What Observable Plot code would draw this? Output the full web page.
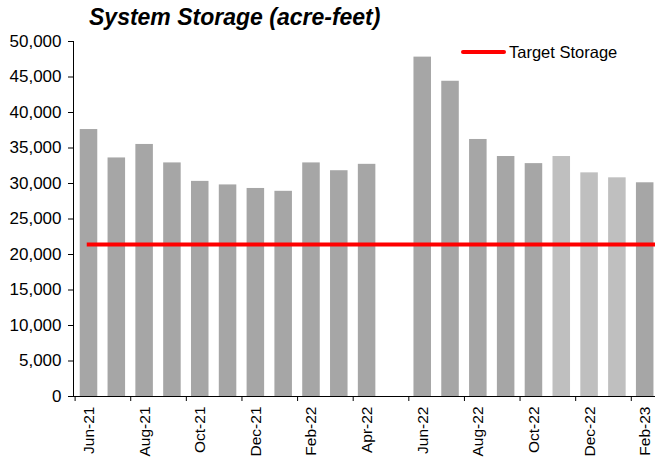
<!DOCTYPE html>
<html><head><meta charset="utf-8">
<script src="https://cdn.jsdelivr.net/npm/d3@7"></script>
<script src="https://cdn.jsdelivr.net/npm/@observablehq/plot@0.6"></script>
<style>
body{margin:0;background:#fff;font-family:"Liberation Sans",Arial,sans-serif;}
#wrap{position:relative;width:655px;height:459px;overflow:hidden;background:#fff;}
#title{position:absolute;left:89px;top:4px;font-size:23px;font-weight:bold;font-style:italic;line-height:normal;white-space:nowrap;color:#000;}
#legend{position:absolute;left:461px;top:42px;height:20px;display:flex;align-items:center;font-size:16.5px;white-space:nowrap;color:#000;}
#legend .sw{display:inline-block;width:45px;height:4px;background:#ff0000;border-radius:2px;margin-right:3px;}
</style></head><body>
<div id="wrap"><div id="chart"></div><div id="title"></div><div id="legend"><span class="sw"></span><span id="legtext"></span></div></div>
<script>
const titleText = "System Storage (acre-feet)";
const legendLabel = "Target Storage";
const months = ["Jun-21","Jul-21","Aug-21","Sep-21","Oct-21","Nov-21","Dec-21","Jan-22","Feb-22","Mar-22","Apr-22","May-22","Jun-22","Jul-22","Aug-22","Sep-22","Oct-22","Nov-22","Dec-22","Jan-23","Feb-23"];
const storage = [37600,33600,35500,32900,30300,29800,29300,28900,32900,31800,32700,null,47800,44400,36200,33800,32800,33800,31500,30800,30100];
const projected = ["Nov-22","Dec-22","Jan-23"];
const target = 21400;
const yTicks = [0,5000,10000,15000,20000,25000,30000,35000,40000,45000,50000];
const xTickLabels = ["Jun-21","Aug-21","Oct-21","Dec-21","Feb-22","Apr-22","Jun-22","Aug-22","Oct-22","Dec-22","Feb-23"];

document.getElementById("title").textContent = titleText;
document.getElementById("legtext").textContent = legendLabel;

const data = months.map((m, i) => ({month: m, value: storage[i], projected: projected.includes(m)}))
  .filter(d => d.value != null);
const targetData = [{start: months[0], end: months[months.length - 1], value: target}];

const chart = Plot.plot({
  width: 655, height: 459,
  marginTop: 41, marginBottom: 63, marginLeft: 73, marginRight: 0,
  style: {fontFamily: "'Liberation Sans', Arial, sans-serif", color: "#000", background: "transparent"},
  x: {type: "band", domain: months, range: [74.6, 658.6], paddingInner: 0.37, paddingOuter: 0.185, round: false, axis: null, label: null},
  y: {domain: [0, 50000], axis: null, label: null},
  color: {type: "identity"},
  marks: [
    Plot.barY(data, {x: "month", y: "value", fill: d => d.projected ? "#bfbfbf" : "#a6a6a6"}),
    Plot.ruleY(targetData, {y: "value", x1: "start", x2: "end", insetLeft: 7, insetRight: -4, stroke: "#ff0000", strokeWidth: 4}),
    Plot.ruleY([0], {stroke: "#000", strokeWidth: 1}),
    Plot.frame({anchor: "left", stroke: "#000"}),
    Plot.axisY(yTicks, {anchor: "left", label: null, tickSize: 5, tickPadding: 7, tickFormat: d3.format(","), fontSize: 17}),
    Plot.axisX(xTickLabels, {anchor: "bottom", label: null, tickSize: 5, tickFormat: () => "", dx: -13.9}),
    Plot.axisX(xTickLabels, {anchor: "bottom", label: null, tickSize: 0, tickPadding: 10, tickRotate: -90, fontSize: 15.5})
  ]
});
document.getElementById("chart").appendChild(chart);
</script>
</body></html>
